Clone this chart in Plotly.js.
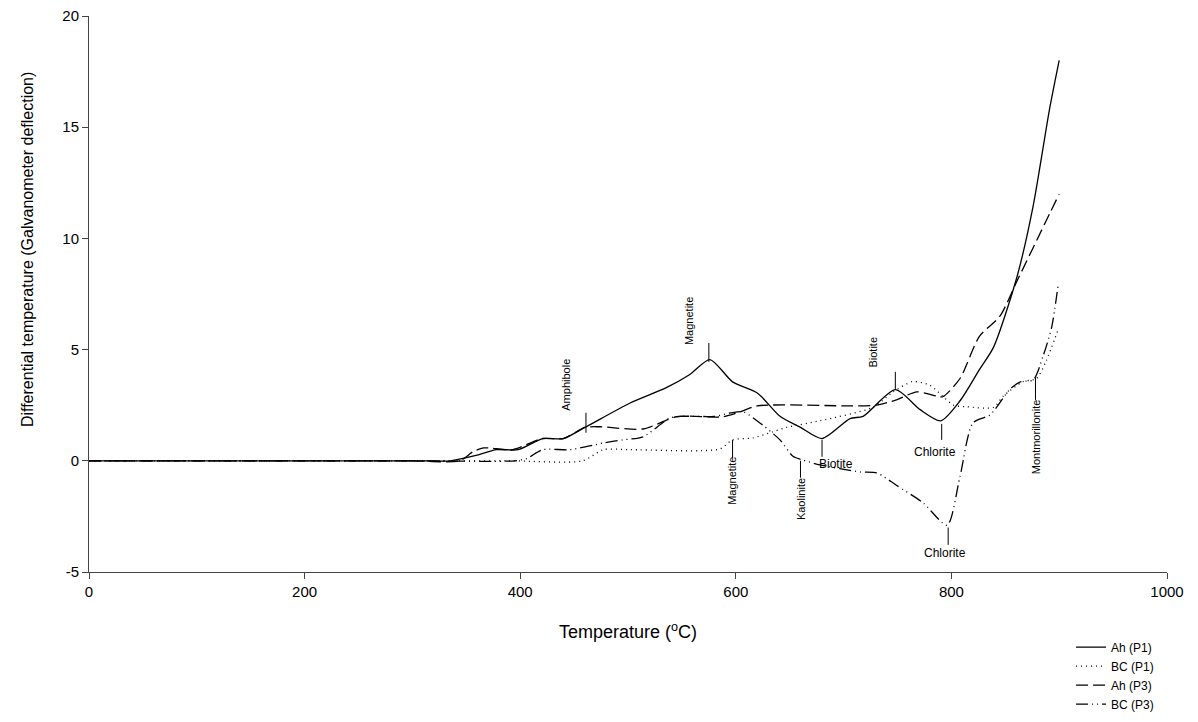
<!DOCTYPE html>
<html>
<head>
<meta charset="utf-8">
<script src="https://cdn.plot.ly/plotly-3.0.1.min.js"></script>
<style>html,body{margin:0;padding:0;background:#fff;}#chart{width:1198px;height:722px;}</style>
</head>
<body>
<div id="chart"></div>
<script>
// Series: temperature (°C) and galvanometer deflection
const ahP1_T = [0, 100, 200, 300, 335, 360, 378, 398, 421, 440, 460, 502, 536, 557, 576, 597, 620, 641, 660, 680, 706, 718, 748, 771, 790, 808, 826, 839, 861, 876, 891, 900];
const ahP1_V = [0, 0, 0, 0, 0, 0.25, 0.5, 0.5, 1.0, 1.0, 1.5, 2.6, 3.3, 3.87, 4.55, 3.55, 3.05, 2.0, 1.5, 1.0, 1.9, 2.0, 3.2, 2.3, 1.8, 2.7, 4.1, 5.1, 8.3, 11.5, 15.8, 18.0];

const bcP1_T = [0, 100, 200, 300, 390, 458, 477, 502, 585, 597, 616, 634, 647, 678, 727, 746, 764, 780, 792, 802, 814, 839, 848, 866, 879, 888, 899];
const bcP1_V = [0, 0, 0, 0, 0, 0, 0.5, 0.5, 0.53, 0.94, 1.03, 1.3, 1.5, 1.8, 2.4, 3.1, 3.56, 3.4, 2.9, 2.5, 2.43, 2.4, 2.9, 3.55, 3.7, 4.5, 5.9];

const ahP3_T = [0, 100, 200, 300, 344, 356, 366, 393, 420, 440, 460, 474, 514, 545, 588, 604, 620, 706, 730, 749, 768, 787, 792, 808, 826, 845, 861, 891, 900];
const ahP3_V = [0, 0, 0, 0, 0, 0.4, 0.58, 0.5, 1.0, 1.0, 1.5, 1.53, 1.43, 1.98, 1.98, 2.2, 2.47, 2.47, 2.5, 2.74, 3.1, 2.9, 2.88, 3.7, 5.6, 6.5, 8.1, 11.1, 12.0];

const bcP3_T = [0, 100, 200, 300, 395, 406, 421, 446, 477, 495, 514, 539, 551, 580, 595, 607, 625, 641, 653, 661, 678, 715, 731, 749, 774, 796, 808, 820, 836, 854, 864, 876, 885, 893, 899];
const bcP3_V = [0, 0, 0, 0, 0, 0.1, 0.5, 0.5, 0.8, 0.94, 1.08, 1.93, 2.0, 2.0, 2.15, 2.2, 1.6, 0.94, 0.2, 0.05, -0.18, -0.5, -0.55, -1.1, -1.9, -2.9, -0.7, 1.7, 2.07, 3.2, 3.55, 3.64, 4.7, 6.0, 7.9];

const seriesNames = ['Ah (P1)', 'BC (P1)', 'Ah (P3)', 'BC (P3)'];

// Peak labels
const labelText  = ['Amphibole', 'Magnetite', 'Biotite', 'Magnetite', 'Kaolinite', 'Biotite', 'Chlorite', 'Chlorite', 'Montmorillonite'];
const labelTickT = [461, 575, 748, 597, 660, 680, 791, 797, 878];
const labelTickV0 = [1.26, 4.45, 3.19, 0.13, 0.0, 0.18, 0.94, -3.0, 2.74];
const labelTickV1 = [2.16, 5.3, 4.0, 0.94, -0.76, 0.94, 1.66, -3.78, 3.73];
const labelTextT = [443, 556, 727, 596.5, 660, 693, 785, 794, 878];
const labelTextV = [3.4, 6.3, 4.9, -0.9, -1.7, -0.13, 0.4, -4.13, 1.08];
const labelRotated = [true, true, true, true, true, false, false, false, true];

const xTicks = [0, 200, 400, 600, 800, 1000];
const yTicks = [-5, 0, 5, 10, 15, 20];

const lineW = 1.3;
const mk = (x, y, name, dash) => ({
  x: x, y: y, name: name, type: 'scatter', mode: 'lines',
  line: {color: '#000', width: lineW, dash: dash, shape: 'spline', smoothing: 0.7}
});

const traces = [
  mk(ahP1_T, ahP1_V, seriesNames[0], 'solid'),
  mk(bcP1_T, bcP1_V, seriesNames[1], '1px,4px'),
  mk(ahP3_T, ahP3_V, seriesNames[2], '12px,5px'),
  mk(bcP3_T, bcP3_V, seriesNames[3], '12px,4px,1px,4px,1px,4px')
];

const shapes = labelTickT.map((t, i) => ({
  type: 'line', xref: 'x', yref: 'y', x0: t, x1: t, y0: labelTickV0[i], y1: labelTickV1[i],
  line: {color: '#000', width: 1}
}));

const annotations = labelText.map((s, i) => ({
  text: s, x: labelTextT[i], y: labelTextV[i], xref: 'x', yref: 'y',
  showarrow: false, textangle: labelRotated[i] ? -90 : 0,
  font: {family: 'Liberation Sans, Arial, sans-serif', size: labelRotated[i] ? 11 : 12, color: '#000'},
  xanchor: 'center', yanchor: 'middle'
}));

annotations.push({
  text: 'Differential temperature (Galvanometer deflection)',
  xref: 'paper', yref: 'paper', x: -0.0575, y: 0.579, showarrow: false, textangle: -90,
  font: {family: 'Liberation Sans, Arial, sans-serif', size: 16, color: '#000'},
  xanchor: 'center', yanchor: 'middle'
});

const layout = {
  width: 1198, height: 722,
  margin: {l: 89, r: 31, t: 16, b: 150, autoexpand: false},
  paper_bgcolor: '#fff', plot_bgcolor: '#fff',
  font: {family: 'Liberation Sans, Arial, sans-serif', color: '#000'},
  showlegend: true,
  legend: {
    x: 0.911, y: -0.109, xanchor: 'left', yanchor: 'top',
    font: {size: 12, color: '#000'}, bgcolor: 'rgba(0,0,0,0)', borderwidth: 0,
    tracegroupgap: 0, itemwidth: 30
  },
  xaxis: {
    range: [0, 1000], tickvals: xTicks, ticktext: xTicks.map(String),
    showgrid: false, zeroline: false, showline: true, linecolor: '#444', linewidth: 1,
    ticks: 'outside', ticklen: 6, tickcolor: '#444',
    tickfont: {size: 15, color: '#000'},
    title: {text: 'Temperature (<sup>o</sup>C)', font: {size: 18, color: '#000'}, standoff: 26}
  },
  yaxis: {
    range: [-5, 20], tickvals: yTicks, ticktext: yTicks.map(String),
    showgrid: false, zeroline: false, showline: true, linecolor: '#444', linewidth: 1,
    ticks: 'outside', ticklen: 6, tickcolor: '#444',
    tickfont: {size: 15, color: '#000'}
  },
  shapes: shapes,
  annotations: annotations
};

Plotly.newPlot('chart', traces, layout, {displayModeBar: false, staticPlot: true});
</script>
</body>
</html>
